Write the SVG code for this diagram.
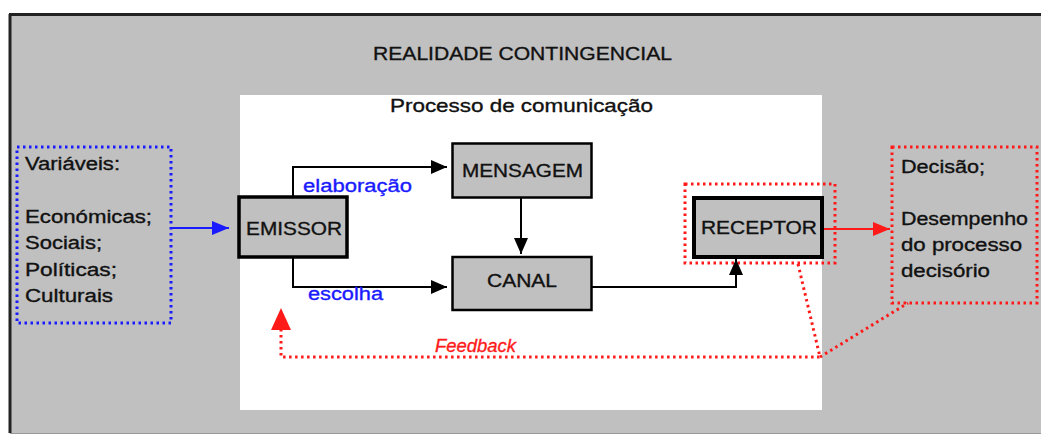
<svg xmlns="http://www.w3.org/2000/svg" width="1041" height="435" viewBox="0 0 1041 435">
<style>
text{font-family:"Liberation Sans",Arial,sans-serif;fill:#111;stroke:#111;stroke-width:0.35}
.t{font-size:18px}
.b{font-size:19px}
.blue{fill:#1a1aff;stroke:#1a1aff;font-size:18px}
.red{fill:#ff1a1a;stroke:#ff1a1a;font-size:18px;font-style:italic}
.box{fill:#c0c0c0;stroke:#000}
.ln{fill:none;stroke:#000;stroke-width:2}
.dotb{fill:none;stroke:#1a1aff;stroke-width:3;stroke-dasharray:2.5 3.5}
.dotr{fill:none;stroke:#ff1a1a;stroke-width:3;stroke-dasharray:2.5 3.5}
</style>
<defs>
<marker id="ab" viewBox="0 0 16 14" refX="16" refY="7" markerWidth="16" markerHeight="14" markerUnits="userSpaceOnUse" orient="auto"><path d="M0 0 L16 7 L0 14 Z" fill="#000"/></marker>
<marker id="abl" viewBox="0 0 17 14" refX="17" refY="7" markerWidth="17" markerHeight="14" markerUnits="userSpaceOnUse" orient="auto"><path d="M0 0 L17 7 L0 14 Z" fill="#1a1aff"/></marker>
<marker id="ar" viewBox="0 0 17 14" refX="17" refY="7" markerWidth="17" markerHeight="14" markerUnits="userSpaceOnUse" orient="auto"><path d="M0 0 L17 7 L0 14 Z" fill="#ff1a1a"/></marker>
</defs>
<g id="background">
<rect x="10" y="14" width="1031" height="419" fill="#c0c0c0"/>
<line x1="9" y1="14.5" x2="1041" y2="14.5" stroke="#222" stroke-width="3"/>
<line x1="10" y1="14" x2="10" y2="433" stroke="#222" stroke-width="3"/>
<line x1="10" y1="433.5" x2="1041" y2="433.5" stroke="#999" stroke-width="1"/>
<text class="b" x="373" y="60" textLength="299" lengthAdjust="spacingAndGlyphs">REALIDADE CONTINGENCIAL</text>
<rect x="240" y="95" width="582" height="315" fill="#fff"/>
<text class="b" x="390" y="112" textLength="263" lengthAdjust="spacingAndGlyphs">Processo de comunicação</text>
</g>
<g id="variaveis">
<rect class="dotb" x="17" y="147" width="154" height="176"/>
<text class="t" x="25" y="170" textLength="95" lengthAdjust="spacingAndGlyphs">Variáveis:</text>
<text class="t" x="25" y="223" textLength="127" lengthAdjust="spacingAndGlyphs">Económicas;</text>
<text class="t" x="25" y="249" textLength="77" lengthAdjust="spacingAndGlyphs">Sociais;</text>
<text class="t" x="25" y="276" textLength="92" lengthAdjust="spacingAndGlyphs">Políticas;</text>
<text class="t" x="25" y="302" textLength="88" lengthAdjust="spacingAndGlyphs">Culturais</text>
</g>
<g id="emissor">
<rect class="box" x="239" y="197" width="108" height="60" stroke-width="3.5"/>
<text class="b" x="246" y="235" textLength="96" lengthAdjust="spacingAndGlyphs">EMISSOR</text>
</g>
<g id="mensagem">
<rect class="box" x="452.5" y="143.5" width="139" height="54" stroke-width="2.5"/>
<text class="b" x="462" y="177" textLength="121" lengthAdjust="spacingAndGlyphs">MENSAGEM</text>
</g>
<g id="canal">
<rect class="box" x="452.5" y="257" width="139" height="53" stroke-width="2.5"/>
<text class="b" x="487" y="287" textLength="70" lengthAdjust="spacingAndGlyphs">CANAL</text>
</g>
<g id="receptor">
<rect class="dotr" x="685" y="184" width="150" height="79"/>
<rect class="box" x="694" y="198" width="128" height="59" stroke-width="4"/>
<text class="b" x="701" y="234" textLength="116" lengthAdjust="spacingAndGlyphs">RECEPTOR</text>
</g>
<g id="decisao">
<rect class="dotr" x="892" y="147" width="145" height="156"/>
<text class="t" x="901" y="173" textLength="84" lengthAdjust="spacingAndGlyphs">Decisão;</text>
<text class="t" x="901" y="225" textLength="127" lengthAdjust="spacingAndGlyphs">Desempenho</text>
<text class="t" x="901" y="251" textLength="121" lengthAdjust="spacingAndGlyphs">do processo</text>
<text class="t" x="901" y="277" textLength="89" lengthAdjust="spacingAndGlyphs">decisório</text>
</g>
<g id="connectors">
<line x1="172" y1="228" x2="229" y2="228" stroke="#1a1aff" stroke-width="2" marker-end="url(#abl)"/>
<polyline class="ln" points="293,196 293,167 447,167" marker-end="url(#ab)"/>
<text class="blue" x="303" y="192" textLength="109" lengthAdjust="spacingAndGlyphs">elaboração</text>
<polyline class="ln" points="293,258 293,287 447,287" marker-end="url(#ab)"/>
<text class="blue" x="308" y="300" textLength="75" lengthAdjust="spacingAndGlyphs">escolha</text>
<line class="ln" x1="521" y1="198" x2="521" y2="254" marker-end="url(#ab)"/>
<polyline class="ln" points="592,287 736,287 736,259" marker-end="url(#ab)"/>
<line x1="824" y1="229" x2="890" y2="229" stroke="#ff1a1a" stroke-width="2" marker-end="url(#ar)"/>
<polyline class="dotr" points="798,264 820,357 281,357 281,330"/>
<path d="M281 308 L291 330 L271 330 Z" fill="#ff1a1a"/>
<line class="dotr" x1="820" y1="357" x2="908" y2="303"/>
<text class="red" x="435" y="352" textLength="81" lengthAdjust="spacingAndGlyphs">Feedback</text>
</g>
</svg>
